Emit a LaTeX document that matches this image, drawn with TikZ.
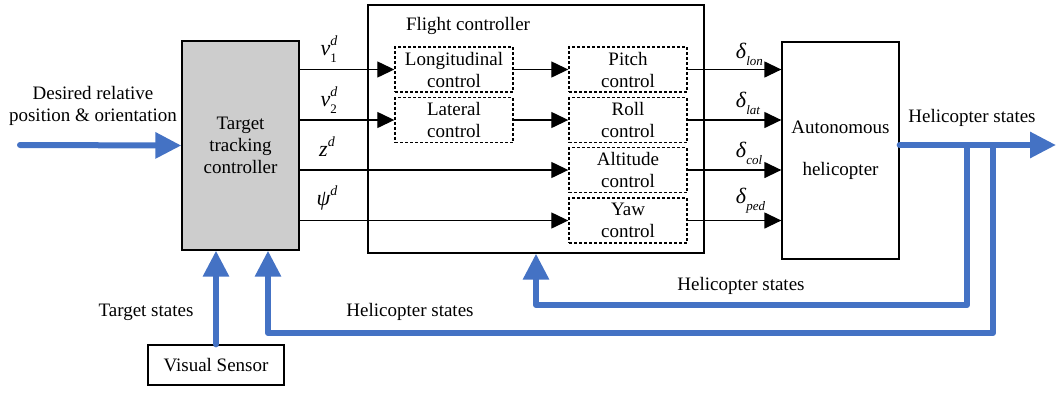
\documentclass[tikz,border=0pt]{standalone}
\usepackage{fontspec}
\setmainfont{Liberation Serif}
\usetikzlibrary{arrows.meta}

\definecolor{stateblue}{RGB}{68,114,196}
\definecolor{boxgray}{RGB}{205,205,205}

% Italic symbol with small index below and/or above.
\newcommand{\sigtag}[3]{%
  \textit{#1}\rlap{\raisebox{-7pt}{\fontsize{13}{13}\selectfont\textit{#2}}}%
  \raisebox{10pt}{\fontsize{14}{14}\selectfont\textit{#3}}}

\tikzset{
  block/.style = {draw, line width = 1.3pt, align = center},
  subblock/.style = {draw, densely dashed, line width = 1.4pt, align = center,
    minimum width = 118pt, minimum height = 45pt, inner sep = 0pt},
  signal/.style = {line width = 1.3pt, -{Triangle[length = 17pt, width = 16pt]}},
  state/.style = {line width = 6pt, stateblue, line join = round,
    line cap = round, -{Triangle[length = 26pt, width = 25pt]}},
  tag/.style = {font = \fontsize{22}{22}\selectfont, inner sep = 1pt}
}

\begin{document}
\begin{tikzpicture}[x = 1pt, y = -1pt, font = \fontsize{19}{22}\selectfont]

        \useasboundingbox (0, 0) rectangle (1056, 392);

        % Main blocks.
        \node (ttc) at (240.5, 145.5) [block, fill = boxgray,
            minimum width = 117pt, minimum height = 209pt]
            {Target\\tracking\\controller};
        \node (fc) at (536, 129) [block, minimum width = 336pt,
            minimum height = 248pt] {};
        \node (heli) at (840.5, 150.5) [block, minimum width = 117pt,
            minimum height = 217pt] {Autonomous\\[20pt]helicopter};
        \node (vs) at (216, 365) [block, minimum width = 136pt,
            minimum height = 40pt] {Visual Sensor};

        % Blocks inside the flight controller.
        \node (lon) at (454, 69.5) [subblock] {Longitudinal\\control};
        \node (lat) at (454, 120) [subblock] {Lateral\\control};
        \node (pitch) at (628, 69.5) [subblock] {Pitch\\control};
        \node (roll) at (628, 120) [subblock] {Roll\\control};
        \node (alt) at (628, 170) [subblock] {Altitude\\control};
        \node (yaw) at (628, 220.5) [subblock] {Yaw\\control};
        \node (fctitle) at (468, 26) {Flight controller};

        % Points where the blue lines start and turn.
        \coordinate (in) at (20, 145);
        \coordinate (out) at (1056, 145);
        \coordinate (b1) at (967, 145);
        \coordinate (b2) at (993, 145);
        \coordinate (fb1) at (fc.south |- 0, 305);
        \coordinate (fb2) at (268, 333);

        % Commands from the target tracking controller.
        \draw [signal] (ttc.east |- lon.west) to (lon.west);
        \draw [signal] (ttc.east |- lat.west) to (lat.west);
        \draw [signal] (ttc.east |- alt.west) to (alt.west);
        \draw [signal] (ttc.east |- yaw.west) to (yaw.west);
        \draw [signal] (lon) to (pitch);
        \draw [signal] (lat) to (roll);

        % Inputs of the helicopter.
        \draw [signal] (pitch.east) to (pitch.east -| heli.west);
        \draw [signal] (roll.east) to (roll.east -| heli.west);
        \draw [signal] (alt.east) to (alt.east -| heli.west);
        \draw [signal] (yaw.east) to (yaw.east -| heli.west);

        % Label the signals.
        \node (v1) at (329, 49) [tag] {\sigtag{v}{\upshape 1}{d}};
        \node (v2) at (329, 100) [tag] {\sigtag{v}{\upshape 2}{d}};
        \node (zd) at (327, 150) [tag] {\sigtag{z}{}{d}};
        \node (psid) at (327, 199) [tag] {\sigtag{ψ}{}{d}};
        \node (dlon) at (741, 54) [tag] {\sigtag{δ}{lon}{}};
        \node (dlat) at (741, 103) [tag] {\sigtag{δ}{lat}{}};
        \node (dcol) at (741, 153) [tag] {\sigtag{δ}{col}{}};
        \node (dped) at (741, 201) [tag] {\sigtag{δ}{ped}{}};

        % Blue state lines.
        \draw [state] (in) to (ttc.west);
        \draw [state] (vs.north) to (vs.north |- ttc.south);
        \draw [state] (heli.east |- out) to (out);
        \draw [state] (b1) |- (fb1) to (fc.south);
        \draw [state] (b2) |- (fb2) to (fb2 |- ttc.south);

        % Label the blue lines.
        \node (desired) at (93, 106) [align = center]
            {Desired relative\\position \& orientation};
        \node (tstates) at (146, 312) {Target states};
        \node (hstates1) at (972, 118) {Helicopter states};
        \node (hstates2) at (741, 286) {Helicopter states};
        \node (hstates3) at (410, 312) {Helicopter states};
    \end{tikzpicture}
\end{document}
